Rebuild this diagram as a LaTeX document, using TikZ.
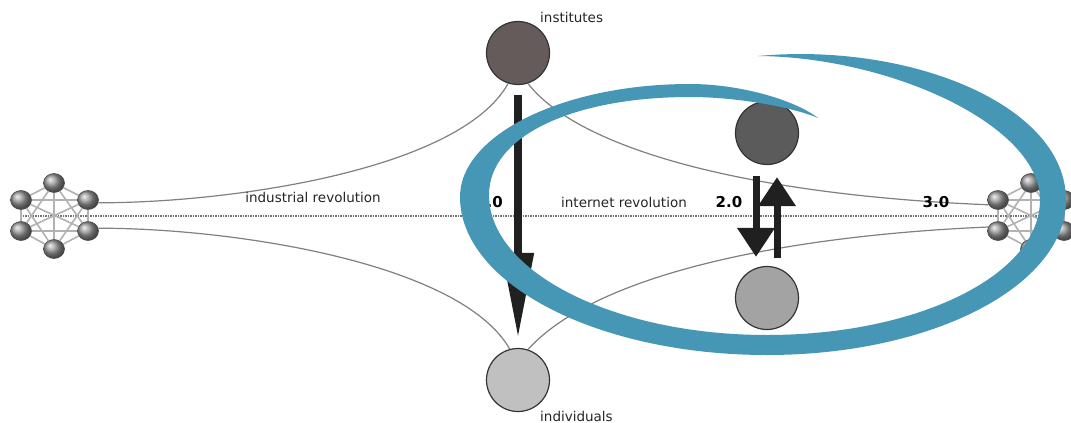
\documentclass[tikz,border=0pt]{standalone}
\usepackage{fontspec}
\setmainfont{DejaVu Sans}
\usetikzlibrary{arrows.meta,calc,shapes.geometric}
\definecolor{swooshblue}{HTML}{4597B5}
\definecolor{instfill}{HTML}{655B5B}
\definecolor{indfill}{HTML}{C0C0C0}
\definecolor{midark}{HTML}{5B5B5B}
\definecolor{milight}{HTML}{A3A3A3}
\definecolor{arrowblack}{HTML}{202020}
\begin{document}
\begin{tikzpicture}[x=1pt,y=-1pt,
  ball/.style={ellipse, minimum width=21pt, minimum height=19pt, inner sep=0pt,
    draw=black!70, line width=0.6pt, shading=ball, ball color=black!40},
  mesh/.style={draw=black!30, line width=1.6pt},
  link/.style={draw=black!50, line width=1.2pt},
  axis/.style={draw=black!55, line width=2.4pt, dash pattern=on 1.5pt off 1pt},
  bigcirc/.style={circle, minimum size=63pt, inner sep=0pt, draw=black!80, line width=1.2pt},
  lbl/.style={font=\fontsize{13.5}{16}\selectfont, text=black!85, inner sep=0pt},
  ver/.style={font=\fontsize{15}{18}\selectfont\bfseries, text=black, inner sep=0pt},
  fat/.style={draw=arrowblack, line width=8pt, -{Triangle[length=85pt,width=30pt]}},
  thin/.style={draw=arrowblack, line width=7pt, -{Triangle[length=29pt,width=36pt]}}
]
\useasboundingbox (0,0) rectangle (1071,423);
\fill[white] (0,0) rectangle (1071,423);

% axis
\coordinate (axl) at (20,216);
\coordinate (axr) at (1064,216);
\draw[axis] (axl) -- (axr);

% left cluster
\node[ball] (L1) at (54,183) {};
\node[ball] (L2) at (21,200) {};
\node[ball] (L3) at (88,200) {};
\node[ball] (L4) at (21,231) {};
\node[ball] (L5) at (88,231) {};
\node[ball] (L6) at (54,249) {};
\foreach \a/\b in {L1/L2,L1/L3,L1/L4,L1/L5,L1/L6,L2/L3,L2/L4,L2/L5,L2/L6,L3/L4,L3/L5,L3/L6,L4/L5,L4/L6,L5/L6}
  \draw[mesh] (\a) -- (\b);

% right cluster
\node[ball] (R1) at (1031,183) {};
\node[ball] (R2) at (998,200) {};
\node[ball] (R3) at (1064,200) {};
\node[ball] (R4) at (998,231) {};
\node[ball] (R5) at (1064,231) {};
\node[ball] (R6) at (1031,249) {};
\foreach \a/\b in {R1/R2,R1/R3,R1/R4,R1/R5,R1/R6,R2/R3,R2/R4,R2/R5,R2/R6,R3/R4,R3/R5,R3/R6,R4/R5,R4/R6,R5/R6}
  \draw[mesh] (\a) -- (\b);

% big circles
\node[bigcirc, fill=instfill] (inst) at (518,53) {};
\node[bigcirc, fill=indfill] (indiv) at (518,380) {};
\node[bigcirc, fill=midark] (mdark) at (767,133) {};
\node[bigcirc, fill=milight] (mlight) at (767,298) {};

% links
\draw[link] (L3.-15) .. controls (230,203) and (460,170) .. (inst.252);
\draw[link] (L5.15) .. controls (230,228) and (460,262) .. (indiv.105);
\draw[link] (inst.288) .. controls (580,150) and (750,195) .. (R2.207);
\draw[link] (indiv.72) .. controls (600,270) and (800,235) .. (R4.158);

% labels
\node[lbl] (tindus) at (313,197) {industrial revolution};
\node[lbl] (tinter) at (624,202) {internet revolution};
\node[ver, anchor=east] (v1) at (503,202) {.0};
\node[ver] (v2) at (729,202) {2.0};
\node[ver] (v3) at (936,202) {3.0};
\node[lbl, anchor=west] (tinst) at (540,17) {institutes};
\node[lbl, anchor=west] (tind) at (540,416) {individuals};

% arrows
\draw[fat] ($(inst.south)+(0,10)$) -- ($(indiv.north)+(0,-10)$);
\draw[thin] ($(mdark.south)+(-11,11)$) -- ($(mlight.north)+(-11,-9)$);
\draw[thin] ($(mlight.north)+(10,-8)$) -- ($(mdark.south)+(10,12)$);

% swoosh
\fill[swooshblue]
  (758,56) .. controls (910,42) and (1066,105) .. (1066,200)
  .. controls (1066,286) and (932,355) .. (767,355)
  .. controls (598,355) and (460,284) .. (460,197)
  .. controls (460,135) and (563,84) .. (690,84)
  .. controls (740,84) and (795,100) .. (818,118)
  .. controls (795,108) and (740,97) .. (690,97)
  .. controls (575,97) and (489,135) .. (489,195)
  .. controls (489,272) and (614,335) .. (767,335)
  .. controls (918,335) and (1040,275) .. (1040,200)
  .. controls (1040,125) and (890,57) .. (758,56) -- cycle;
\end{tikzpicture}
\end{document}
